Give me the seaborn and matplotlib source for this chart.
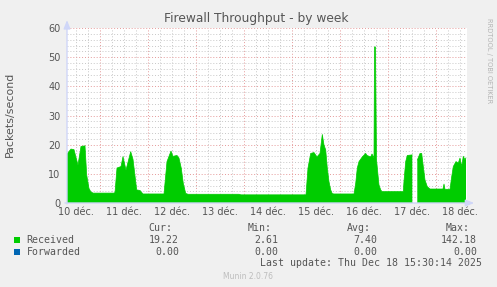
import numpy as np
import pandas as pd
import matplotlib
matplotlib.use("Agg")
import matplotlib.pyplot as plt
import matplotlib.dates as mdates
from matplotlib.ticker import MultipleLocator, FuncFormatter, NullFormatter
from matplotlib.patches import Rectangle
import seaborn as sns

# ---------------- data ----------------
title = "Firewall Throughput - by week"
y_label = "Packets/second"
start_time = "2025-12-10 07:30"
end_time = "2025-12-18 15:30"

hours = [0.0, 2.0, 3.5, 5.5, 7.0, 9.0, 9.85, 11.0, 11.85, 13.0, 23.5,
         24.0, 25.0, 27.0, 28.0, 29.5, 31.85, 33.0, 34.85, 36.5, 38.0, 48.5,
         50.0, 52.0, 53.0, 55.0, 56.0, 57.15, 58.15, 59.35, 60.5, 86.0, 87.0,
         119.5, 120.5, 121.85, 123.5, 125.0, 126.5, 127.65, 128.5, 129.35,
         130.15, 131.0, 131.85, 132.65, 133.5, 143.5, 144.35, 145.15, 146.0,
         147.65, 149.35, 150.0, 151.85, 152.5, 153.5, 153.75, 154.25, 154.75,
         155.5, 156.0, 156.85, 157.5, 168.15, 168.5, 169.35, 170.15, 172.65,
         173.5, 175.15, 176.5, 177.35, 178.15, 179.0, 180.15, 181.5, 188.0,
         188.5, 189.0, 191.5, 192.35, 193.15, 194.5, 195.65, 196.5, 197.35,
         198.15, 199.0, 199.5]
received = [16.8, 18.5, 18.3, 13.0, 19.4, 19.6, 9.6, 5.0, 3.9, 3.4, 3.4,
            3.6, 12.0, 12.5, 15.9, 11.3, 17.6, 15.0, 4.5, 4.3, 3.1, 3.1,
            14.2, 17.8, 16.0, 16.3, 15.4, 11.9, 6.7, 3.3, 3.0, 3.0, 2.8,
            2.8, 12.0, 17.0, 17.3, 15.8, 17.0, 23.5, 19.9, 18.2,
            12.0, 7.3, 4.5, 3.2, 3.1, 3.1, 6.7, 12.0, 14.2,
            15.8, 17.0, 16.3, 15.8, 16.8, 15.5, 53.5, 53.5, 15.0,
            9.6, 6.2, 4.5, 3.9, 3.9, 7.5, 14.2, 16.3, 16.5,
            np.nan, 14.7, 17.0, 17.0, 12.5, 7.9, 5.6, 4.8, 4.8,
            6.5, 4.7, 4.7, 9.0, 12.5, 14.2, 13.7, 15.4, 12.5,
            16.0, 14.8, 15.5]
forwarded = [np.nan if np.isnan(v) else 0.0 for v in received]

day_dates = ["2025-12-10", "2025-12-11", "2025-12-12", "2025-12-13", "2025-12-14",
             "2025-12-15", "2025-12-16", "2025-12-17", "2025-12-18"]
day_labels = ["10 déc.", "11 déc.", "12 déc.", "13 déc.", "14 déc.",
              "15 déc.", "16 déc.", "17 déc.", "18 déc."]

series_names = ["Received", "Forwarded"]
series_colors = ["#00CC00", "#0066B3"]
stat_headers = ["Cur:", "Min:", "Avg:", "Max:"]
received_stats = ["19.22", "2.61", "7.40", "142.18"]
forwarded_stats = ["0.00", "0.00", "0.00", "0.00"]
last_update = "Last update: Thu Dec 18 15:30:14 2025"
footer = "Munin 2.0.76"
watermark = "RRDTOOL / TOBI OETIKER"

# ---------------- figure ----------------
sns.set_style("white")
plt.rcParams["font.family"] = ["DejaVu Sans"]
W, H = 497, 287
BG = "#F0F0F0"
TXT = "#555555"
fig = plt.figure(figsize=(W / 100, H / 100), dpi=100, facecolor=BG)
ax = fig.add_axes([67 / W, 1 - 203 / H, 400 / W, 175 / H])
ax.set_facecolor("white")

t0 = pd.Timestamp(start_time)
times = t0 + pd.to_timedelta(hours, unit="h")
seg = np.cumsum(np.isnan(np.array(received, dtype=float)))
df = pd.DataFrame({"time": times, "Received": received,
                   "Forwarded": forwarded, "seg": seg})

ax.fill_between(df["time"], 0, df["Received"], color=series_colors[0],
                linewidth=0, zorder=2)
sns.lineplot(data=df.dropna(), x="time", y="Received", units="seg",
             estimator=None, color=series_colors[0], linewidth=0.5, ax=ax,
             zorder=2)
sns.lineplot(data=df.dropna(), x="time", y="Forwarded", units="seg",
             estimator=None, color=series_colors[1], linewidth=1.0, ax=ax,
             zorder=1)

ax.set_xlim(t0, pd.Timestamp(end_time))
ax.set_ylim(0, 60)
ax.set_xlabel("")
ax.set_ylabel("")

# grid
ax.set_axisbelow(True)
ax.xaxis.set_major_locator(mdates.HourLocator(byhour=[0]))
ax.xaxis.set_minor_locator(mdates.HourLocator(byhour=[6, 12, 18]))
ax.xaxis.set_major_formatter(NullFormatter())
label_map = {pd.Timestamp(d).date(): l for d, l in zip(day_dates, day_labels)}


def fmt_minor(x, pos):
    d = mdates.num2date(x).replace(tzinfo=None)
    if d.hour == 12:
        return label_map.get(d.date(), "")
    return ""


ax.xaxis.set_minor_formatter(FuncFormatter(fmt_minor))
ax.yaxis.set_major_locator(MultipleLocator(10))
ax.yaxis.set_minor_locator(MultipleLocator(2))
ax.grid(which="minor", color="#C8C8C8", linestyle=(0, (1, 2)), linewidth=0.7)
ax.grid(which="major", color="#E59A9A", linestyle=(0, (1, 2)), linewidth=0.7)

ax.tick_params(axis="x", which="major", length=2, width=0.7, color="#E59A9A",
               direction="out")
ax.tick_params(axis="x", which="minor", length=0, pad=3.2, labelsize=7,
               labelcolor=TXT)
ax.tick_params(axis="y", which="major", length=2, width=0.7, color="#E59A9A",
               pad=2.8, labelsize=7, labelcolor=TXT)
ax.tick_params(axis="y", which="minor", length=0)
for s in ax.spines.values():
    s.set_visible(False)

# axes with arrows
axis_col = "#CFD6F8"
ax.annotate("", xy=(1.018, 0), xytext=(-0.005, 0), xycoords="axes fraction",
            arrowprops=dict(arrowstyle="-|>,head_length=0.5,head_width=0.2",
                            color=axis_col, lw=1.0, shrinkA=0, shrinkB=0),
            annotation_clip=False, zorder=5)
ax.annotate("", xy=(0, 1.045), xytext=(0, -0.005), xycoords="axes fraction",
            arrowprops=dict(arrowstyle="-|>,head_length=0.5,head_width=0.2",
                            color=axis_col, lw=1.0, shrinkA=0, shrinkB=0),
            annotation_clip=False, zorder=5)

# texts


def fx(px):
    return px / W


def fy(py):
    return 1 - py / H


fig.text(fx(256), fy(18.5), title, ha="center", va="center", fontsize=8.8,
         color=TXT)
fig.text(fx(10), fy(114), y_label, ha="center", va="center", rotation=90,
         fontsize=7.9, color=TXT)
fig.text(fx(489), fy(61), watermark, ha="center", va="center", rotation=270,
         fontsize=4.8, color="#B4B4B4")

mono = "DejaVu Sans Mono"
ms = 7.1
header_right = [172, 272, 371, 470]
value_right = [179, 278, 377, 477]
for h, xr in zip(stat_headers, header_right):
    fig.text(fx(xr), fy(228), h, ha="right", va="center", fontsize=ms,
             family=mono, color=TXT)
rows = [received_stats, forwarded_stats]
row_y = [239.6, 251.8]
for name, col, stats, yy in zip(series_names, series_colors, rows, row_y):
    fig.add_artist(Rectangle((fx(14), fy(yy + 3)), 6 / W, 6 / H,
                             transform=fig.transFigure, color=col, lw=0))
    fig.text(fx(26.5), fy(yy), name, ha="left", va="center", fontsize=ms,
             family=mono, color=TXT)
    for v, xr in zip(stats, value_right):
        fig.text(fx(xr), fy(yy), v, ha="right", va="center", fontsize=ms,
                 family=mono, color=TXT)
fig.text(fx(482), fy(263.5), last_update, ha="right", va="center",
         fontsize=ms, family=mono, color=TXT)
fig.text(fx(248), fy(276.5), footer, ha="center", va="center", fontsize=5.5,
         color="#BDBDBD")

fig.savefig("out.png", dpi=100, facecolor=BG)
